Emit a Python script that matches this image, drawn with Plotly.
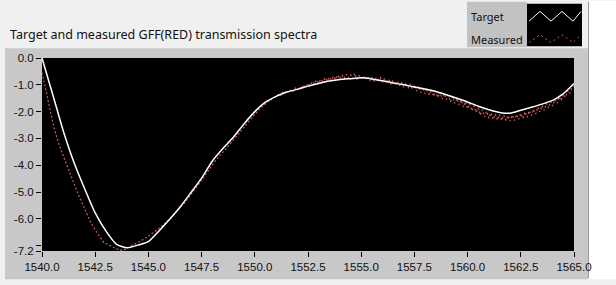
import plotly.graph_objects as go

# ---- data ----
target_wl = [1540.0, 1540.5, 1541.0, 1541.5, 1542.0, 1542.5, 1543.0, 1543.5, 1544.0, 1544.5,
             1545.0, 1545.5, 1546.0, 1546.5, 1547.0, 1547.5, 1548.0, 1548.5, 1549.0, 1549.5,
             1550.0, 1550.5, 1551.0, 1551.5, 1552.0, 1552.5, 1553.0, 1553.5, 1554.0, 1554.5,
             1555.0, 1555.5, 1556.0, 1556.5, 1557.0, 1557.5, 1558.0, 1558.5, 1559.0, 1559.5,
             1560.0, 1560.5, 1561.0, 1561.5, 1562.0, 1562.5, 1563.0, 1563.5, 1564.0, 1564.5,
             1565.0]
target_db = [0.0, -1.35, -2.72, -3.89, -4.87, -5.78, -6.45, -6.95, -7.08, -6.98,
             -6.85, -6.45, -6.02, -5.55, -5.02, -4.48, -3.85, -3.38, -2.95, -2.45,
             -2.00, -1.65, -1.43, -1.27, -1.17, -1.05, -0.95, -0.86, -0.80, -0.77,
             -0.74, -0.78, -0.85, -0.93, -1.00, -1.08, -1.16, -1.25, -1.37, -1.50,
             -1.64, -1.80, -1.93, -2.03, -2.06, -1.95, -1.84, -1.72, -1.58, -1.33,
             -0.95]

measured_start = 1540.0
measured_step = 0.1
measured_db = [
    -0.55, -0.85, -1.25, -1.65, -2.07, -2.38, -2.70, -3.00, -3.22, -3.45,
    -3.66, -3.88, -4.08, -4.28, -4.48, -4.68, -4.88, -5.08, -5.26, -5.45,
    -5.63, -5.82, -6.00, -6.15, -6.28, -6.42, -6.55, -6.65, -6.76, -6.88,
    -6.92, -6.96, -7.02, -7.05, -7.08, -7.12, -7.14, -7.16, -7.18, -7.14,
    -7.10, -7.05, -7.00, -6.96, -6.92, -6.88, -6.84, -6.80, -6.75, -6.70,
    -6.65, -6.60, -6.55, -6.49, -6.42, -6.36, -6.30, -6.23, -6.15, -6.08,
    -6.00, -5.92, -5.84, -5.76, -5.68, -5.60, -5.50, -5.40, -5.30, -5.20,
    -5.10, -5.00, -4.89, -4.78, -4.67, -4.56, -4.45, -4.33, -4.21, -4.10,
    -3.99, -3.89, -3.79, -3.69, -3.60, -3.51, -3.42, -3.33, -3.24, -3.15,
    -3.06, -2.96, -2.86, -2.76, -2.66, -2.57, -2.48, -2.38, -2.28, -2.19,
    -2.10, -2.00, -1.92, -1.84, -1.77, -1.70, -1.64, -1.58, -1.53, -1.49,
    -1.45, -1.36, -1.42, -1.28, -1.35, -1.22, -1.30, -1.18, -1.24, -1.12,
    -1.20, -1.08, -1.15, -1.00, -1.10, -0.94, -1.03, -0.88, -0.97, -0.82,
    -0.94, -0.80, -0.88, -0.73, -0.86, -0.72, -0.82, -0.68, -0.80, -0.64,
    -0.78, -0.63, -0.76, -0.61, -0.74, -0.63, -0.77, -0.58, -0.80, -0.66,
    -0.76, -0.67, -0.80, -0.69, -0.86, -0.71, -0.88, -0.75, -0.82, -0.72,
    -0.90, -0.77, -0.95, -0.79, -0.99, -0.83, -1.01, -0.87, -1.03, -0.91,
    -1.09, -0.93, -1.13, -0.97, -1.15, -1.01, -1.23, -1.05, -1.29, -1.09,
    -1.33, -1.13, -1.37, -1.17, -1.43, -1.23, -1.47, -1.27, -1.53, -1.33,
    -1.55, -1.39, -1.63, -1.43, -1.69, -1.51, -1.75, -1.57, -1.83, -1.63,
    -1.89, -1.71, -1.97, -1.79, -2.03, -1.87, -2.13, -1.93, -2.19, -1.99,
    -2.25, -2.05, -2.29, -2.09, -2.31, -2.11, -2.33, -2.13, -2.33, -2.15,
    -2.35, -2.13, -2.33, -2.11, -2.29, -2.07, -2.25, -2.01, -2.21, -1.97,
    -2.15, -1.91, -2.09, -1.83, -2.01, -1.77, -1.95, -1.69, -1.87, -1.63,
    -1.79, -1.55, -1.69, -1.45, -1.59, -1.35, -1.47, -1.23, -1.33, -1.09,
    -1.04,
]
measured_wl = [round(measured_start + i * measured_step, 3) for i in range(len(measured_db))]

x_ticks = [1540.0, 1542.5, 1545.0, 1547.5, 1550.0, 1552.5, 1555.0, 1557.5, 1560.0, 1562.5, 1565.0]
x_ticklabels = ["1540.0", "1542.5", "1545.0", "1547.5", "1550.0", "1552.5", "1555.0",
                "1557.5", "1560.0", "1562.5", "1565.0"]
y_ticks = [0.0, -1.0, -2.0, -3.0, -4.0, -5.0, -6.0, -7.0, -7.2]
y_ticklabels = ["0.0", "-1.0", "-2.0", "-3.0", "-4.0", "-5.0", "-6.0", "", "-7.2"]

title_text = "Target and measured GFF(RED) transmission spectra"
series_names = ["Target", "Measured"]

# ---- figure ----
W, H = 616, 285
L, R, T, B = 42, 42, 58, 28
pw, ph = W - L - R, H - T - B

def px(x):
    return (x - L) / pw

def py(y):
    return (H - B - y) / ph

MEAS_COLOR = "#d05c5c"

fig = go.Figure()
fig.add_trace(go.Scatter(x=measured_wl, y=measured_db, mode="lines", name=series_names[1],
                         line=dict(color=MEAS_COLOR, width=1.2, dash="2px,2px")))
fig.add_trace(go.Scatter(x=target_wl, y=target_db, mode="lines", name=series_names[0],
                         line=dict(color="white", width=1.5, shape="spline", smoothing=0.6)))

shapes = []
# grey panel
shapes.append(dict(type="rect", xref="paper", yref="paper", layer="below",
                   x0=px(5), x1=px(588), y0=py(48), y1=py(286),
                   fillcolor="#c8c8c8", line=dict(width=0)))
# black plotting area
shapes.append(dict(type="rect", xref="paper", yref="paper", layer="below",
                   x0=0, x1=1, y0=0, y1=1,
                   fillcolor="black", line=dict(width=0)))
# right white strip
shapes.append(dict(type="rect", xref="paper", yref="paper", layer="below",
                   x0=px(589), x1=px(617), y0=py(-1), y1=py(286),
                   fillcolor="white", line=dict(width=0)))
shapes.append(dict(type="line", xref="paper", yref="paper", layer="below",
                   x0=px(588.5), x1=px(588.5), y0=py(0), y1=py(285),
                   line=dict(color="#9a9a9a", width=1)))
# legend box
shapes.append(dict(type="rect", xref="paper", yref="paper", layer="above",
                   x0=px(467), x1=px(527), y0=py(0), y1=py(47),
                   fillcolor="#c2c2c2", line=dict(width=0)))
shapes.append(dict(type="rect", xref="paper", yref="paper", layer="above",
                   x0=px(527), x1=px(582), y0=py(2), y1=py(46),
                   fillcolor="black", line=dict(width=0)))
# legend glyphs (zigzag samples)
def zig(y_lo, y_hi):
    xs = [529, 540, 551, 562, 573, 581]
    ys = [y_lo, y_hi, y_lo, y_hi, y_lo, y_hi]
    pts = ["%s%.5f,%.5f" % ("M" if i == 0 else "L", px(a), py(b)) for i, (a, b) in enumerate(zip(xs, ys))]
    return " ".join(pts)

shapes.append(dict(type="path", xref="paper", yref="paper", layer="above",
                   path=zig(20, 10), line=dict(color="white", width=1)))
shapes.append(dict(type="path", xref="paper", yref="paper", layer="above",
                   path=zig(42, 34), line=dict(color=MEAS_COLOR, width=1, dash="2px,3px")))

annotations = [
    dict(text=title_text, xref="paper", yref="paper", x=px(8), y=py(34),
         xanchor="left", yanchor="middle", showarrow=False,
         font=dict(family="Noto Sans", size=12.5, color="#111111")),
    dict(text=series_names[0], xref="paper", yref="paper", x=px(469), y=py(15),
         xanchor="left", yanchor="middle", showarrow=False,
         font=dict(family="Noto Sans", size=11, color="#111111")),
    dict(text=series_names[1], xref="paper", yref="paper", x=px(469), y=py(39),
         xanchor="left", yanchor="middle", showarrow=False,
         font=dict(family="Noto Sans", size=11, color="#111111")),
]

fig.update_layout(
    width=W, height=H,
    margin=dict(l=L, r=R, t=T, b=B, pad=0),
    paper_bgcolor="#f0f0f0",
    plot_bgcolor="black",
    showlegend=False,
    shapes=shapes,
    annotations=annotations,
    font=dict(family="Liberation Sans", size=11.5, color="#111111"),
)
fig.update_xaxes(range=[1540, 1565], tickvals=x_ticks, ticktext=x_ticklabels,
                 ticks="outside", ticklen=5, tickcolor="black", tickwidth=1,
                 showgrid=False, zeroline=False, showline=False)
fig.update_yaxes(range=[-7.2, 0], tickvals=y_ticks, ticktext=y_ticklabels,
                 ticks="outside", ticklen=5, tickcolor="black", tickwidth=1,
                 showgrid=False, zeroline=False, showline=False)

fig.write_html("out.html")
